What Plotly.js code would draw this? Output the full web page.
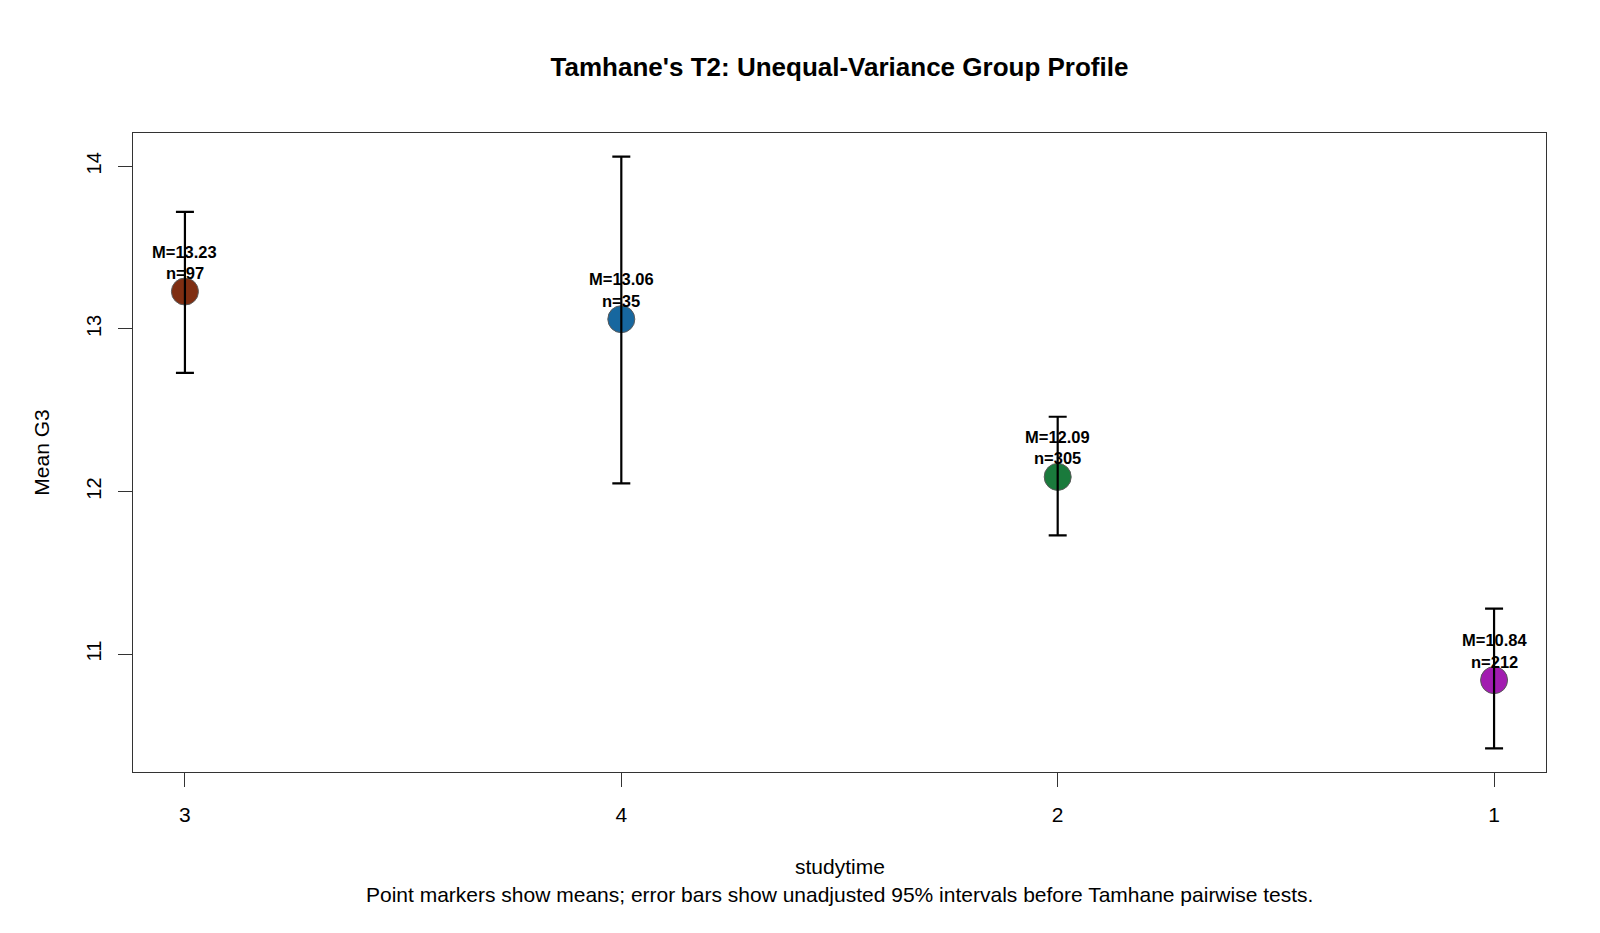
<!DOCTYPE html>
<html>
<head>
<meta charset="utf-8">
<script src="https://cdn.plot.ly/plotly-3.0.1.min.js"></script>
<style>
  html, body { margin: 0; padding: 0; background: #ffffff; }
  #chart { width: 1600px; height: 933px; }
</style>
</head>
<body>
<div id="chart"></div>
<script>
// Study-time groups, in plotting order
const groups = ['3', '4', '2', '1'];
// Mean final grade (G3) per group
const means = [13.23, 13.06, 12.09, 10.84];
// Group sizes
const counts = [97, 35, 305, 212];
// Unadjusted 95% confidence limits
const ciLower = [12.73, 12.05, 11.73, 10.42];
const ciUpper = [13.72, 14.06, 12.46, 11.28];
// Fill colour per group
const groupColors = ['#7f2e12', '#17679f', '#1a7a3c', '#a21cb0'];

const FONT = 'Liberation Sans, Arial, Helvetica, sans-serif';

const errPlus = means.map((m, i) => ciUpper[i] - m);
const errMinus = means.map((m, i) => m - ciLower[i]);

const pointTrace = {
  type: 'scatter',
  mode: 'markers',
  x: groups,
  y: means,
  marker: {
    size: 27,
    color: groupColors,
    line: { color: '#5a5a5a', width: 1 }
  },
  hoverinfo: 'x+y',
  showlegend: false
};

// Interval whiskers drawn over the points
const intervalTrace = {
  type: 'scatter',
  mode: 'markers',
  x: groups,
  y: means,
  marker: { size: 1, opacity: 0 },
  error_y: {
    type: 'data',
    symmetric: false,
    array: errPlus,
    arrayminus: errMinus,
    color: '#000000',
    thickness: 2.2,
    width: 9
  },
  hoverinfo: 'skip',
  showlegend: false
};

// Mean and size labels stacked above each point (x given as category index)
const annotations = [];
groups.forEach((g, i) => {
  annotations.push({
    x: i, y: means[i], xref: 'x', yref: 'y',
    text: '<b>M=' + means[i].toFixed(2) + '</b>',
    showarrow: false, yanchor: 'middle', xanchor: 'center',
    yshift: 40,
    font: { family: FONT, size: 16.5, color: '#000000' }
  });
  annotations.push({
    x: i, y: means[i], xref: 'x', yref: 'y',
    text: '<b>n=' + counts[i] + '</b>',
    showarrow: false, yanchor: 'middle', xanchor: 'center',
    yshift: 18.5,
    font: { family: FONT, size: 16.5, color: '#000000' }
  });
});

// Axis title and footnote below the plot
annotations.push({
  x: 0.5, y: 0, xref: 'paper', yref: 'paper',
  text: 'studytime', showarrow: false,
  yanchor: 'middle', xanchor: 'center', yshift: -94,
  font: { family: FONT, size: 21, color: '#000000' }
});
annotations.push({
  x: 0.5, y: 0, xref: 'paper', yref: 'paper',
  text: 'Point markers show means; error bars show unadjusted 95% intervals before Tamhane pairwise tests.',
  showarrow: false,
  yanchor: 'middle', xanchor: 'center', yshift: -122,
  font: { family: FONT, size: 21, color: '#000000' }
});

const layout = {
  width: 1600,
  height: 933,
  paper_bgcolor: '#ffffff',
  plot_bgcolor: '#ffffff',
  margin: { l: 133, r: 54, t: 133, b: 161 },
  title: {
    text: "<b>Tamhane's T2: Unequal-Variance Group Profile</b>",
    x: 0.5, xref: 'paper', xanchor: 'center',
    y: 1 - 67 / 933, yref: 'container', yanchor: 'middle',
    font: { family: FONT, size: 26, color: '#000000' }
  },
  xaxis: {
    type: 'category',
    categoryorder: 'array',
    categoryarray: groups,
    range: [-0.119, 3.119],
    showgrid: false,
    zeroline: false,
    showline: true,
    mirror: true,
    linecolor: '#333333',
    linewidth: 1,
    ticks: 'outside',
    ticklen: 14,
    tickwidth: 1,
    tickcolor: '#333333',
    ticklabelstandoff: 10,
    tickfont: { family: FONT, size: 21, color: '#000000' }
  },
  yaxis: {
    range: [10.275, 14.205],
    tickvals: [11, 12, 13, 14],
    ticktext: ['11', '12', '13', '14'],
    tickangle: -90,
    showgrid: false,
    zeroline: false,
    showline: true,
    mirror: true,
    linecolor: '#333333',
    linewidth: 1,
    ticks: 'outside',
    ticklen: 14,
    tickwidth: 1,
    tickcolor: '#333333',
    ticklabelstandoff: 9,
    tickfont: { family: FONT, size: 20, color: '#000000' },
    title: {
      text: 'Mean G3',
      standoff: 27,
      font: { family: FONT, size: 21, color: '#000000' }
    }
  },
  annotations: annotations
};

Plotly.newPlot('chart', [pointTrace, intervalTrace], layout, { displayModeBar: false, staticPlot: true });
</script>
</body>
</html>
